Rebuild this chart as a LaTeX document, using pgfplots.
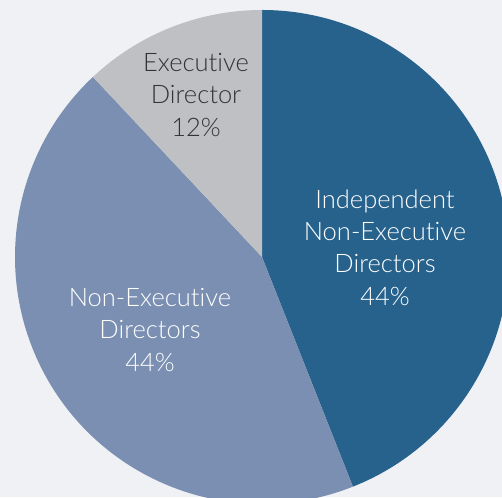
\documentclass[border=0pt]{standalone}
\usepackage{pgfplots}
\usepackage{pgfplotstable}
\pgfplotsset{compat=1.18}
\usepackage{fontspec}
\setmainfont{Lato}[UprightFont=* Light, Ligatures=NoCommon]

\definecolor{bgc}{HTML}{F0F1F5}
\definecolor{indep}{HTML}{27628D}
\definecolor{nonexec}{HTML}{7A8FB1}
\definecolor{execc}{HTML}{BFC0C3}
\definecolor{darktext}{HTML}{333333}

% share of board, percent
\pgfplotstableread[col sep=comma]{
label,value
Independent,44
NonExecutive,44
Executive,12
}\piedata

\begin{document}
\begin{tikzpicture}
\pgfplotstablegetelem{0}{value}\of\piedata \let\vA\pgfplotsretval
\pgfplotstablegetelem{1}{value}\of\piedata \let\vB\pgfplotsretval
\pgfplotstablegetelem{2}{value}\of\piedata \let\vC\pgfplotsretval
% clockwise from the top
\pgfmathsetmacro\aA{90-3.6*\vA}
\pgfmathsetmacro\aB{\aA-3.6*\vB}
\pgfmathsetmacro\aC{\aB-3.6*\vC}
\begin{axis}[
    scale only axis,
    width=502pt, height=497pt,
    xmin=0, xmax=502, ymin=0, ymax=497,
    axis lines=none,
    axis background/.style={fill=bgc},
    clip=true,
]
\def\cx{262}\def\cy{240}\def\R{247pt}
\fill[indep] (axis cs:\cx,\cy) -- ([shift={(90:\R)}]axis cs:\cx,\cy)
    arc[start angle=90, end angle=\aA, radius=\R] -- cycle;
\fill[nonexec] (axis cs:\cx,\cy) -- ([shift={(\aA:\R)}]axis cs:\cx,\cy)
    arc[start angle=\aA, end angle=\aB, radius=\R] -- cycle;
\fill[execc] (axis cs:\cx,\cy) -- ([shift={(\aB:\R)}]axis cs:\cx,\cy)
    arc[start angle=\aB, end angle=\aC, radius=\R] -- cycle;

\node[align=center, text=white, font=\fontsize{25.5}{32.3}\selectfont]
    at (axis cs:385,249.5) {Independent\\Non-Executive\\Directors\\\vA\%};
\node[align=center, text=white, font=\fontsize{25.5}{32.3}\selectfont]
    at (axis cs:150,167) {Non-Executive\\Directors\\\vB\%};
\node[align=center, text=darktext, font=\fontsize{25.5}{32.3}\selectfont]
    at (axis cs:196,402) {Executive\\Director\\\vC\%};
\end{axis}
\end{tikzpicture}
\end{document}
